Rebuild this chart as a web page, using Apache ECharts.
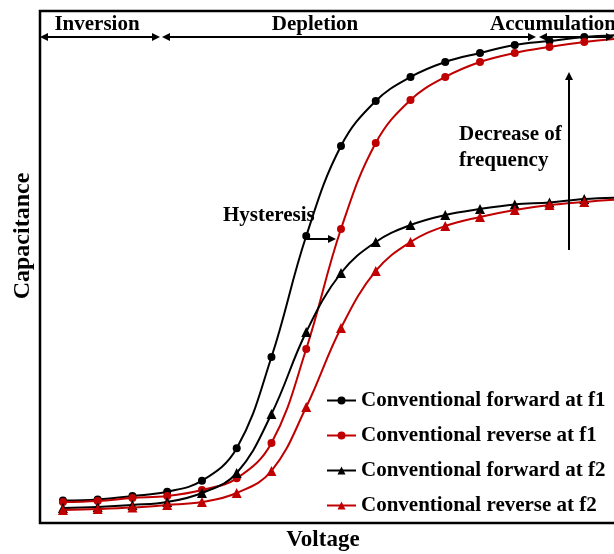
<!DOCTYPE html>
<html>
<head>
<meta charset="utf-8">
<script src="https://cdn.jsdelivr.net/npm/echarts@6/dist/echarts.min.js"></script>
<style>
  html, body { margin: 0; padding: 0; background: #fff; }
  #chart { width: 614px; height: 554px; }
</style>
</head>
<body>
<div id="chart"></div>
<script>
// Gate voltage steps (arbitrary units, equal steps)
const voltage = [0, 1, 2, 3, 4, 5, 6, 7, 8, 9, 10, 11, 12, 13, 14, 15, 16];

// Normalised capacitance (0-100) for each sweep
const forwardF1 = [4.39, 4.59, 5.27, 6.11, 8.26, 14.59, 32.42, 56.05, 73.63, 82.42, 87.11, 90.04, 91.80, 93.36, 94.14, 94.92, 95.31];
const reverseF1 = [4.10, 4.30, 4.88, 5.27, 6.45, 8.73, 15.63, 33.98, 57.42, 74.22, 82.62, 87.11, 90.04, 91.80, 92.97, 93.95, 94.63];
const forwardF2 = [2.93, 3.13, 3.52, 4.10, 5.86, 9.77, 21.29, 37.30, 48.83, 54.88, 58.20, 60.16, 61.33, 62.21, 62.60, 63.28, 63.57];
const reverseF2 = [2.54, 2.73, 3.03, 3.52, 4.10, 5.86, 10.16, 22.66, 38.09, 49.22, 54.88, 58.01, 59.77, 61.13, 62.11, 62.70, 63.18];

const seriesNames = [
  'Conventional forward at f1',
  'Conventional reverse at f1',
  'Conventional forward at f2',
  'Conventional reverse at f2'
];
const seriesValues = [forwardF1, reverseF1, forwardF2, reverseF2];
const seriesColors = ['#000000', '#c00000', '#000000', '#c00000'];
const seriesSymbols = ['circle', 'circle', 'triangle', 'triangle'];

const FONT = '"Liberation Serif", "Times New Roman", serif';

function pairs(values) {
  return voltage.map((v, i) => [v, values[i]]);
}

// Straight arrow with optional heads at either end
function arrow(x1, y1, x2, y2, startHead, endHead) {
  const els = [];
  const len = 8, half = 4;
  const dx = x2 - x1, dy = y2 - y1;
  const d = Math.hypot(dx, dy);
  const ux = dx / d, uy = dy / d;
  const px = -uy, py = ux;
  const sx = startHead ? x1 + ux * len * 0.8 : x1;
  const sy = startHead ? y1 + uy * len * 0.8 : y1;
  const ex = endHead ? x2 - ux * len * 0.8 : x2;
  const ey = endHead ? y2 - uy * len * 0.8 : y2;
  els.push({
    type: 'line', z: 100,
    shape: { x1: sx, y1: sy, x2: ex, y2: ey },
    style: { stroke: '#000', lineWidth: 2 }
  });
  function head(tx, ty, dirx, diry) {
    const bx = tx - dirx * len, by = ty - diry * len;
    return {
      type: 'polygon', z: 100,
      shape: { points: [[tx, ty], [bx + px * half, by + py * half], [bx - px * half, by - py * half]] },
      style: { fill: '#000' }
    };
  }
  if (startHead) els.push(head(x1, y1, -ux, -uy));
  if (endHead) els.push(head(x2, y2, ux, uy));
  return els;
}

function label(text, x, y, align, size) {
  return {
    type: 'text', z: 100, x: x, y: y,
    style: {
      text: text, fill: '#000', font: 'bold ' + (size || 21) + 'px ' + FONT,
      align: align || 'center', verticalAlign: 'middle', lineHeight: 26
    }
  };
}

const chart = echarts.init(document.getElementById('chart'), null, { renderer: 'canvas' });

const graphics = [].concat(
  arrow(40, 37, 160, 37, true, true),
  arrow(162, 37, 536, 37, true, true),
  arrow(539, 37, 614, 37, true, true),
  arrow(307, 239, 336, 239, false, true),
  arrow(569, 250, 569, 72, false, true),
  [
    label('Inversion', 97, 25),
    label('Depletion', 315, 25),
    label('Accumulation', 490, 25, 'left'),
    label('Hysteresis', 223, 216, 'left'),
    label('Decrease of\nfrequency', 459, 148, 'left'),
    label('Voltage', 323, 540, 'center', 23),
    {
      type: 'text', z: 100, x: 23, y: 236, rotation: Math.PI / 2,
      style: {
        text: 'Capacitance', fill: '#000', font: 'bold 24px ' + FONT,
        align: 'center', verticalAlign: 'middle'
      }
    }
  ]
);

chart.setOption({
  animation: false,
  backgroundColor: '#fff',
  grid: {
    left: 40, top: 11, width: 596.4, height: 512,
    show: true, borderColor: '#000', borderWidth: 2.5,
    containLabel: false, outerBoundsMode: 'none'
  },
  xAxis: {
    type: 'value', min: -0.66, max: 16.5,
    axisLine: { show: false }, axisTick: { show: false },
    axisLabel: { show: false }, splitLine: { show: false }
  },
  yAxis: {
    type: 'value', min: 0, max: 100,
    axisLine: { show: false }, axisTick: { show: false },
    axisLabel: { show: false }, splitLine: { show: false }
  },
  legend: {
    orient: 'vertical', left: 326, top: 390,
    itemWidth: 29, itemHeight: 10, itemGap: 14,
    padding: 0,
    textStyle: { fontFamily: FONT, fontWeight: 'bold', fontSize: 21, color: '#000', lineHeight: 21 },
    data: seriesNames
  },
  series: seriesNames.map((name, k) => ({
    name: name,
    type: 'line',
    data: pairs(seriesValues[k]),
    smooth: 0.4,
    symbol: seriesSymbols[k],
    symbolSize: seriesSymbols[k] === 'circle' ? 8 : 10,
    color: seriesColors[k],
    itemStyle: { color: seriesColors[k] },
    lineStyle: { color: seriesColors[k], width: 2 },
    z: 2 + k
  })),
  graphic: graphics
});
</script>
</body>
</html>
